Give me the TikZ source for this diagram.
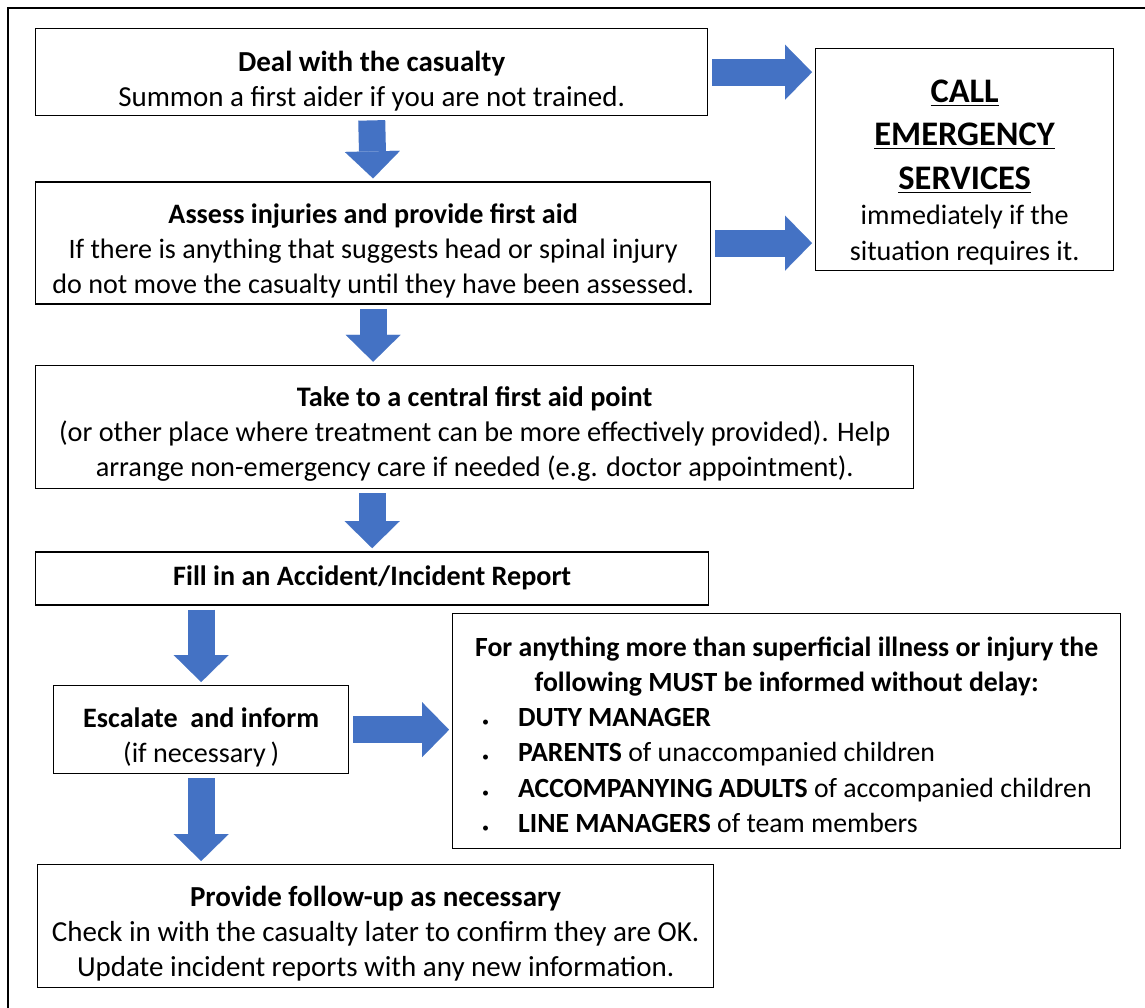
\documentclass[tikz,border=0pt]{standalone}
\usepackage{fontspec}
\setmainfont{Carlito}
\usepackage{tikz}
\usetikzlibrary{positioning, arrows.meta}
\definecolor{arrowblue}{HTML}{4472C4}
\newcommand{\bul}{\hspace{0.14cm}\makebox[0.72cm][l]{\footnotesize\textbullet}}
\newcommand{\bigcaps}[1]{{\fontsize{19.6}{25}\selectfont\underline{\textbf{#1}}}}
\newcommand{\textdrop}[1]{\rule{0pt}{#1}}

\begin{document}
\begin{tikzpicture}[x=0.02cm, y=-0.02cm,
    box/.style={draw, line width=0.8pt, align=center, inner sep=2pt, anchor=north west,
      font=\fontsize{16}{20}\selectfont},
    blockarrow/.style={color=arrowblue, line width=0.54cm,
      -{Triangle[length=0.54cm, width=1.1cm, line width=0.01pt]},
      shorten <=0.08cm, shorten >=0.06cm}]
  \useasboundingbox (0,0) rectangle (1145,1007);
  \draw[line width=1pt] (8,8) rectangle (1150,1012);

  % main column
  \node[box, font=\fontsize{16.5}{20}\selectfont,
    minimum width=13.44cm, minimum height=1.74cm] (deal) at (35,28)
    {\textdrop{22pt}\textbf{Deal with the casualty}\\Summon a first aider if you are not trained.};
  \node[box, minimum width=13.5cm, minimum height=2.44cm] (assess)
    [below=1.3cm of deal.south west, anchor=north west]
    {\textdrop{20pt}\textbf{Assess injuries and provide first aid}\\If there is anything that suggests head or spinal injury\\do not move the casualty until they have been assessed.};
  \node[box, font=\fontsize{16.1}{20}\selectfont,
    minimum width=17.56cm, minimum height=2.46cm] (take)
    [below=1.2cm of assess.south west, anchor=north west]
    {\textdrop{19pt}\textbf{Take to a central first aid point}\\(or other place where treatment can be more effectively provided). Help\\arrange non-emergency care if needed (e.g. doctor appointment).};
  \node[box, minimum width=13.46cm, minimum height=1.06cm] (fill)
    [below=1.24cm of take.south west, anchor=north west]
    {\textbf{Fill in an Accident/Incident Report}};
  \node[box, minimum width=5.9cm, minimum height=1.76cm] (escalate) at (53,685)
    {\textdrop{20pt}\textbf{Escalate~ and inform}\\(if necessary\,)};
  \node[box, font=\fontsize{16.5}{20}\selectfont,
    minimum width=13.52cm, minimum height=2.46cm] (follow) at (37,864)
    {\textdrop{20pt}\textbf{Provide follow-up as necessary}\\Check in with the casualty later to confirm they are OK.\\Update incident reports with any new information.};

  % side boxes
  \node[box, minimum width=5.96cm, minimum height=4.44cm] (call) at (815,48)
    {\textdrop{27pt}\bigcaps{CALL}\\[4.9pt]\bigcaps{EMERGENCY}\\[4.9pt]\bigcaps{SERVICES}\\immediately if the\\situation requires it.};
  \node[box, font=\fontsize{15.8}{20}\selectfont,
    minimum width=13.36cm, minimum height=4.7cm] (inform) at (452,613)
    {\begin{tabular}{@{}l@{}}
      \multicolumn{1}{@{}c@{}}{\textdrop{21pt}\textbf{For anything more than superficial illness or injury the}}\\
      \multicolumn{1}{@{}c@{}}{\textbf{following MUST be informed without delay:}}\\
      \bul\textbf{DUTY MANAGER}\\
      \bul\textbf{PARENTS} of unaccompanied children\\
      \bul\textbf{ACCOMPANYING ADULTS} of accompanied children\\
      \bul\textbf{LINE MANAGERS} of team members
    \end{tabular}};

  \path[blockarrow]
    (deal.south) edge (assess.north)
    (assess.south) edge (assess.south |- take.north)
    (fill.north |- take.south) edge (fill.north)
    (escalate.north |- fill.south) edge (escalate.north)
    (escalate.south) edge (escalate.south |- follow.north)
    (deal.east) edge (deal.east -| call.west)
    (assess.east) edge (assess.east -| call.west)
    (escalate.east) edge (escalate.east -| inform.west);
\end{tikzpicture}
\end{document}
